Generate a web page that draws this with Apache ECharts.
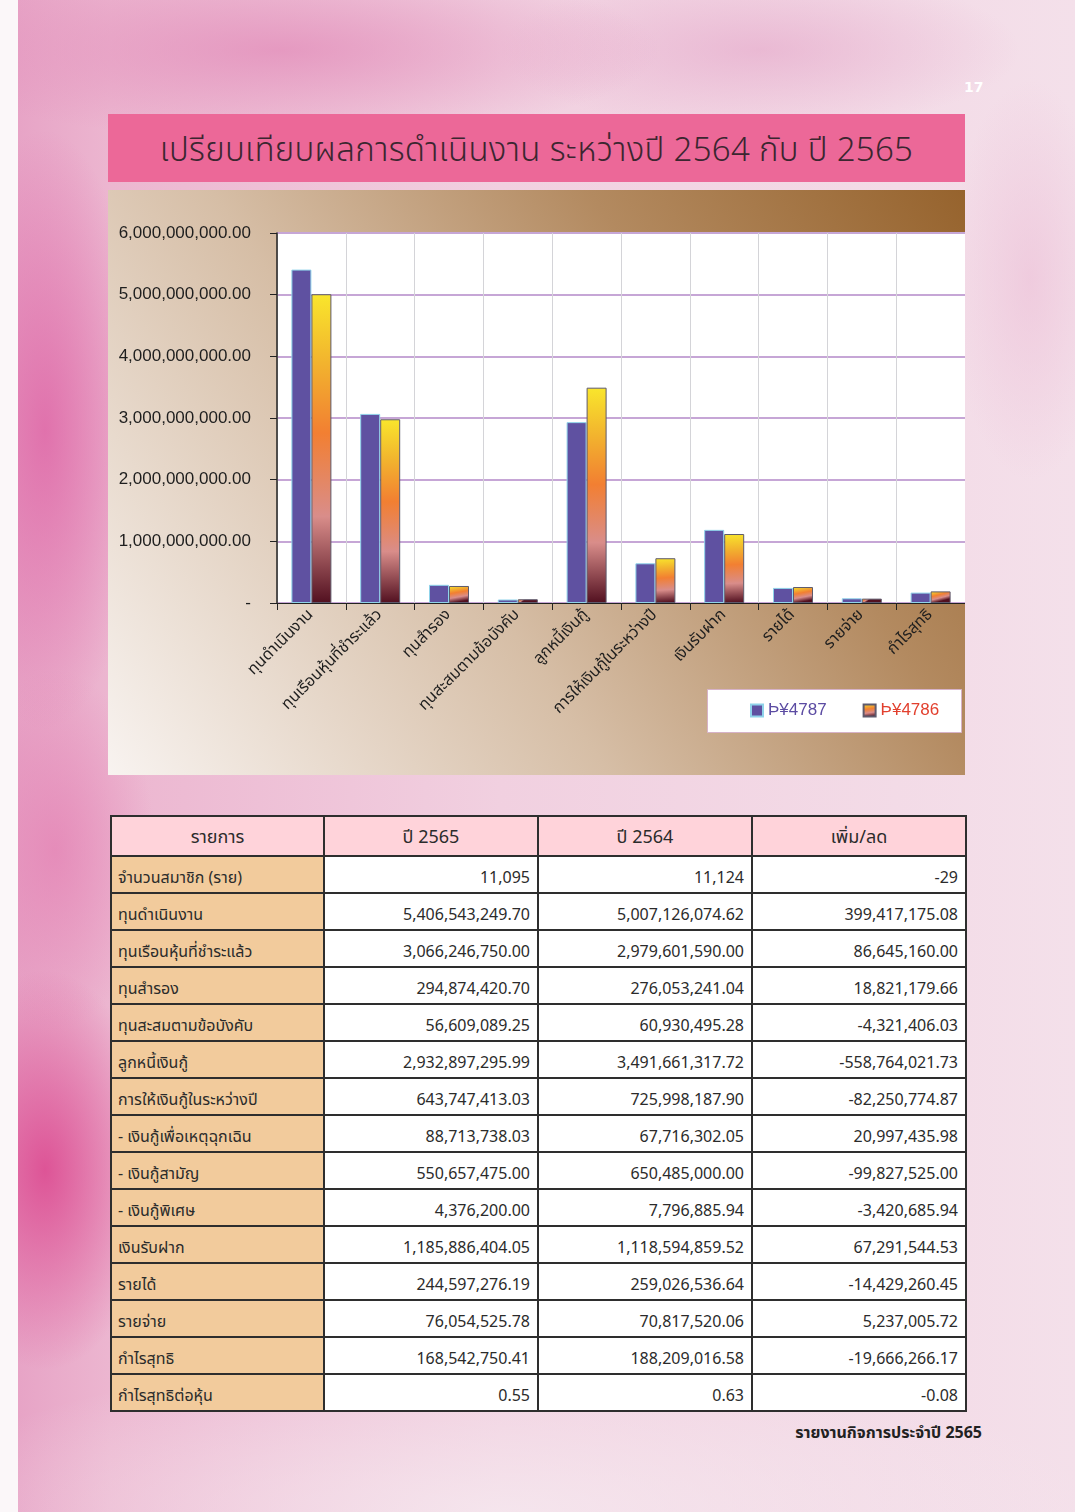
<!DOCTYPE html>
<html>
<head>
<meta charset="utf-8">
<script src="https://cdn.jsdelivr.net/npm/echarts@6/dist/echarts.min.js"></script>
<style>
  html, body { margin:0; padding:0; }
  body {
    width:1075px; height:1512px; position:relative; overflow:hidden;
    font-family: "Noto Sans Thai", "Noto Sans", "DejaVu Sans", sans-serif;
    background:
      radial-gradient(ellipse 110px 200px at 45px 1170px, rgba(220,75,145,0.9), rgba(220,75,145,0) 100%),
      radial-gradient(ellipse 100px 300px at 45px 430px, rgba(222,100,165,0.8), rgba(222,100,165,0) 100%),
      radial-gradient(ellipse 100px 180px at 55px 850px, rgba(228,130,180,0.75), rgba(228,130,180,0) 100%),
      radial-gradient(ellipse 380px 90px at 280px 50px, rgba(226,140,185,0.75), rgba(226,140,185,0) 100%),
      radial-gradient(ellipse 260px 80px at 760px 50px, rgba(228,165,200,0.6), rgba(228,165,200,0) 100%),
      radial-gradient(ellipse 80px 200px at 1030px 280px, rgba(236,190,214,0.6), rgba(236,190,214,0) 100%),
      radial-gradient(ellipse 600px 160px at 500px 1512px, rgba(246,234,240,0.8), rgba(246,234,240,0) 100%),
      linear-gradient(90deg, #e6a0c4 0px, #ecb6d0 110px, #f1d0e0 500px, #f4e0ea 1075px);
  }
  .lmargin { position:absolute; left:0; top:0; width:18px; height:1512px; background:#fbf7f9; }
  .pagenum { position:absolute; left:964px; top:79px; color:#fff; font-weight:bold; font-size:14px; font-family:"DejaVu Sans", sans-serif; }
  .title { position:absolute; left:108px; top:114px; width:857px; height:68px; background:#ec6898;
    color:#3b2630; font-size:33px; line-height:74px; text-align:center; font-weight:300; letter-spacing:0.3px; }
  #chart { position:absolute; left:108px; top:190px; width:857px; height:585px; }
  table { position:absolute; left:110px; top:815px; width:855px; border-collapse:collapse; table-layout:fixed; }
  td, th { border:2px solid #2e2e2e; padding:0 6px; font-weight:normal; color:#2b2b2b; }
  th { height:35px; background:#ffd3da; font-size:18px; text-align:center; padding-top:3px; }
  td { height:33px; font-size:16px; text-align:right; background:#fff; vertical-align:bottom; padding-bottom:2px; padding-right:7px; }
  td.c0 { background:#f2cb9c; text-align:left; padding-left:6px; }
  .footer { position:absolute; right:93px; top:1421px; font-weight:bold; font-size:16px; color:#222; }
</style>
</head>
<body>
<div class="lmargin"></div>
<div class="pagenum">17</div>
<div class="title">เปรียบเทียบผลการดำเนินงาน ระหว่างปี 2564 กับ ปี 2565</div>
<div id="chart"></div>
<table id="tbl"></table>
<div class="footer">รายงานกิจการประจำปี 2565</div>
<script>
// ---- chart data ----
const categories = ['ทุนดำเนินงาน','ทุนเรือนหุ้นที่ชำระแล้ว','ทุนสำรอง','ทุนสะสมตามข้อบังคับ','ลูกหนี้เงินกู้','การให้เงินกู้ในระหว่างปี','เงินรับฝาก','รายได้','รายจ่าย','กำไรสุทธิ'];
const seriesNames = ['Þ¥4787','Þ¥4786'];
const values2565 = [5406543249.70, 3066246750.00, 294874420.70, 56609089.25, 2932897295.99, 643747413.03, 1185886404.05, 244597276.19, 76054525.78, 168542750.41];
const values2564 = [5007126074.62, 2979601590.00, 276053241.04, 60930495.28, 3491661317.72, 725998187.90, 1118594859.52, 259026536.64, 70817520.06, 188209016.58];
const yTicks = [0, 1000000000, 2000000000, 3000000000, 4000000000, 5000000000, 6000000000];

// ---- table data ----
const tableHeader = ['รายการ','ปี 2565','ปี 2564','เพิ่ม/ลด'];
const tableItems = ['จำนวนสมาชิก (ราย)','ทุนดำเนินงาน','ทุนเรือนหุ้นที่ชำระแล้ว','ทุนสำรอง','ทุนสะสมตามข้อบังคับ','ลูกหนี้เงินกู้','การให้เงินกู้ในระหว่างปี','- เงินกู้เพื่อเหตุฉุกเฉิน','- เงินกู้สามัญ','- เงินกู้พิเศษ','เงินรับฝาก','รายได้','รายจ่าย','กำไรสุทธิ','กำไรสุทธิต่อหุ้น'];
const table2565 = ['11,095','5,406,543,249.70','3,066,246,750.00','294,874,420.70','56,609,089.25','2,932,897,295.99','643,747,413.03','88,713,738.03','550,657,475.00','4,376,200.00','1,185,886,404.05','244,597,276.19','76,054,525.78','168,542,750.41','0.55'];
const table2564 = ['11,124','5,007,126,074.62','2,979,601,590.00','276,053,241.04','60,930,495.28','3,491,661,317.72','725,998,187.90','67,716,302.05','650,485,000.00','7,796,885.94','1,118,594,859.52','259,026,536.64','70,817,520.06','188,209,016.58','0.63'];
const tableDiff = ['-29','399,417,175.08','86,645,160.00','18,821,179.66','-4,321,406.03','-558,764,021.73','-82,250,774.87','20,997,435.98','-99,827,525.00','-3,420,685.94','67,291,544.53','-14,429,260.45','5,237,005.72','-19,666,266.17','-0.08'];

// build table
(function(){
  const t = document.getElementById('tbl');
  let h = '<colgroup><col style="width:213px"><col style="width:214px"><col style="width:214px"><col style="width:214px"></colgroup>';
  h += '<tr>' + tableHeader.map(x => '<th>' + x + '</th>').join('') + '</tr>';
  for (let i = 0; i < tableItems.length; i++) {
    h += '<tr><td class="c0">' + tableItems[i] + '</td><td>' + table2565[i] + '</td><td>' + table2564[i] + '</td><td>' + tableDiff[i] + '</td></tr>';
  }
  t.innerHTML = h;
})();

const chart = echarts.init(document.getElementById('chart'));
const orangeGrad = new echarts.graphic.LinearGradient(0, 0, 0.15, 1, [
  {offset:0, color:'#f9e62c'},
  {offset:0.22, color:'#f2b42e'},
  {offset:0.45, color:'#f27f32'},
  {offset:0.72, color:'#d98d8a'},
  {offset:1, color:'#521020'}
]);
const fmt = v => v === 0 ? '-' : v.toLocaleString('en-US', {minimumFractionDigits:2, maximumFractionDigits:2});

chart.setOption({
  animation:false,
  backgroundColor: new echarts.graphic.LinearGradient(0, 1, 1, 0, [
    {offset:0, color:'#f8f3f0'},
    {offset:0.4, color:'#d6bea6'},
    {offset:0.7, color:'#b38a60'},
    {offset:1, color:'#96632d'}
  ]),
  grid:{ left:169, right:0, top:43, bottom:172, show:true, backgroundColor:'#ffffff', borderWidth:0 },
  xAxis:{
    type:'category', data:categories,
    axisLine:{ lineStyle:{ color:'#222', width:1 } },
    axisTick:{ show:true, length:7, lineStyle:{ color:'#222' } },
    splitLine:{ show:true, lineStyle:{ color:'#d4d4d8', width:1 } },
    axisLabel:{ interval:0, rotate:45, fontSize:16, color:'#1e1e1e', margin:10, fontFamily:'"Noto Sans Thai", "Noto Sans", sans-serif' }
  },
  yAxis:{
    type:'value', min:0, max:6000000000, interval:1000000000,
    axisLine:{ show:true, lineStyle:{ color:'#222', width:1.5 } },
    axisTick:{ show:true, length:7, lineStyle:{ color:'#222' } },
    splitLine:{ show:true, lineStyle:{ color:'#c6a6d6', width:2 } },
    axisLabel:{ fontSize:17, color:'#1e1e1e', margin:26, formatter: v => fmt(v), fontFamily:'"Liberation Sans Narrow", "Liberation Sans", sans-serif' }
  },
  legend:{
    left:637, top:507, itemWidth:12, itemHeight:12, itemGap:36,
    icon:'rect',
    textStyle:{ fontSize:17, fontFamily:'"Liberation Sans Narrow", "Liberation Sans", sans-serif' },
    data:[
      { name:seriesNames[0], textStyle:{ color:'#5b4ba2' } },
      { name:seriesNames[1], textStyle:{ color:'#e2402e' } }
    ]
  },
  graphic:[{
    type:'rect', left:599, top:499, z:-1, silent:true,
    shape:{ width:254, height:43 },
    style:{ fill:'#ffffff', stroke:'#d6b2c8', lineWidth:1 }
  }],
  series:[
    { name:seriesNames[0], type:'bar', data:values2565, barWidth:20, barGap:'0%',
      itemStyle:{ color:'#5f51a1', borderColor:'#8fd3ea', borderWidth:1 } },
    { name:seriesNames[1], type:'bar', data:values2564, barWidth:20,
      itemStyle:{ color:orangeGrad, borderColor:'#5e5a6c', borderWidth:1 } }
  ]
});
</script>
</body>
</html>
